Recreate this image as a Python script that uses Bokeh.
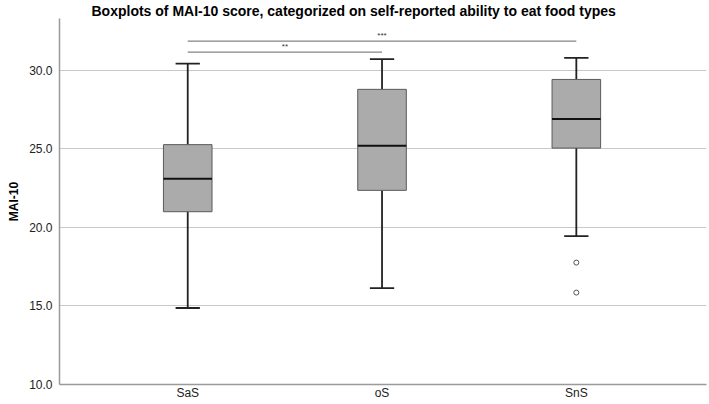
from bokeh.plotting import figure
from bokeh.models import ColumnDataSource, FixedTicker, Label, NumeralTickFormatter, Range1d
from bokeh.embed import file_html
from bokeh.resources import INLINE

# ---- data ----
categories = ["SaS", "oS", "SnS"]
positions = [1, 2, 3]
whisker_low = [14.87, 16.13, 19.45]
q1 = [21.0, 22.36, 25.05]
median = [23.1, 25.2, 26.9]
q3 = [25.27, 28.79, 29.42]
whisker_high = [30.43, 30.72, 30.79]
outlier_x = [3, 3]
outlier_y = [17.76, 15.85]
sig_pairs = [(1, 2), (1, 3)]
sig_levels = [31.16, 31.86]
sig_labels = ["**", "***"]
y_ticks = [10, 15, 20, 25, 30]
title_text = "Boxplots of MAI-10 score, categorized on self-reported ability to eat food types"

FONT = "Liberation Sans"
box_w = 0.25
cap_w = 0.125

p = figure(width=709, height=402, output_backend="svg", toolbar_location=None,
           x_range=Range1d(0.34, 3.67), y_range=Range1d(10, 33.3),
           min_border_left=59, min_border_right=3, min_border_top=0, min_border_bottom=16)
p.outline_line_color = None
p.background_fill_color = "white"

p.title.text = title_text
p.title.text_font = FONT
p.title.text_font_size = "14px"
p.title.text_font_style = "bold"
p.title.text_color = "#000000"
p.title.align = "left"
p.title.offset = 32
p.title.standoff = 0

# axes
p.xaxis.ticker = FixedTicker(ticks=positions)
p.xaxis.major_label_overrides = {pos: c for pos, c in zip(positions, categories)}
p.yaxis.ticker = FixedTicker(ticks=y_ticks)
p.yaxis.formatter = NumeralTickFormatter(format="0.0")
for ax in (p.xaxis, p.yaxis):
    ax.axis_line_color = "#9a9a9a"
    ax.axis_line_width = 1.5
    ax.major_tick_out = 0
    ax.major_tick_in = 0
    ax.minor_tick_out = 0
    ax.minor_tick_in = 0
    ax.major_tick_line_color = None
    ax.minor_tick_line_color = None
    ax.major_label_text_font = FONT
    ax.major_label_text_font_size = "12px"
    ax.major_label_text_color = "#222222"
p.xaxis.major_label_standoff = 1
p.yaxis.major_label_standoff = 7
p.yaxis.axis_label = "MAI-10"
p.yaxis.axis_label_text_font = FONT
p.yaxis.axis_label_text_font_size = "12px"
p.yaxis.axis_label_text_font_style = "bold"
p.yaxis.axis_label_text_color = "#000000"
p.yaxis.axis_label_standoff = 5

p.xgrid.grid_line_color = None
p.ygrid.ticker = FixedTicker(ticks=y_ticks[1:])
p.ygrid.grid_line_color = "#c8c8c8"
p.ygrid.grid_line_width = 1.2

src = ColumnDataSource(dict(x=positions, lo=whisker_low, q1=q1, med=median, q3=q3, hi=whisker_high,
                            cl=[x - cap_w / 2 for x in positions], cr=[x + cap_w / 2 for x in positions],
                            bl=[x - box_w / 2 for x in positions], br=[x + box_w / 2 for x in positions]))

# whiskers
p.segment(x0="x", y0="q3", x1="x", y1="hi", source=src, line_color="#222222", line_width=1.8)
p.segment(x0="x", y0="lo", x1="x", y1="q1", source=src, line_color="#222222", line_width=1.8)
p.segment(x0="cl", y0="hi", x1="cr", y1="hi", source=src, line_color="#222222", line_width=1.8)
p.segment(x0="cl", y0="lo", x1="cr", y1="lo", source=src, line_color="#222222", line_width=1.8)
# boxes
p.vbar(x="x", width=box_w, bottom="q1", top="q3", source=src,
       fill_color="#ababab", line_color="#5a5a5a", line_width=1)
p.segment(x0="bl", y0="med", x1="br", y1="med", source=src, line_color="#111111", line_width=2)
# outliers
p.scatter(outlier_x, outlier_y, size=5, marker="circle", fill_color="white",
          line_color="#555555", line_width=1)

# significance bars
for (a, b), lvl, lab in zip(sig_pairs, sig_levels, sig_labels):
    p.segment(x0=[a], y0=[lvl], x1=[b], y1=[lvl], line_color="#666666", line_width=1)
    p.add_layout(Label(x=(a + b) / 2, y=lvl, text=lab, text_align="center", text_baseline="bottom",
                       y_offset=1, text_font=FONT, text_font_size="8px", text_color="#333333"))

open("out.html", "w").write(file_html(p, INLINE))
